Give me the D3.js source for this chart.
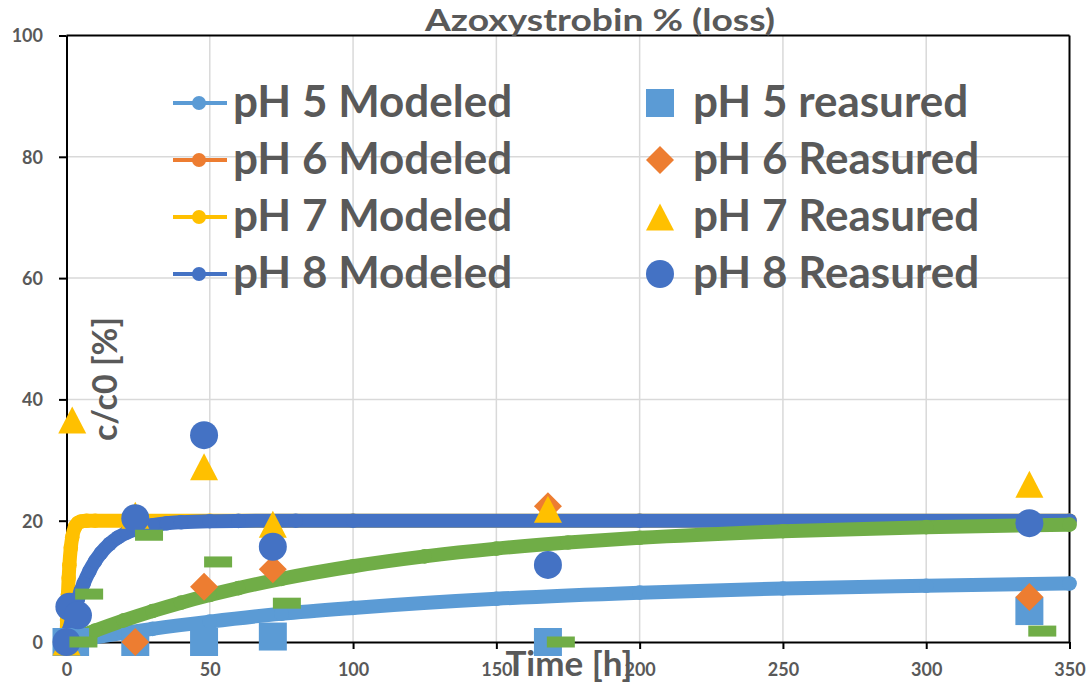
<!DOCTYPE html>
<html><head><meta charset="utf-8">
<script src="https://cdn.jsdelivr.net/npm/d3@7"></script>
<style>
html,body{margin:0;padding:0;background:#fff;}
svg text{font-family:Lato,"Open Sans",sans-serif;font-weight:bold;fill:#595959;}
</style></head>
<body>
<svg id="chart" width="1092" height="691"></svg>
<script>
// ---- data ----
const xTicks = [0, 50, 100, 150, 200, 250, 300, 350];
const yTicks = [0, 20, 40, 60, 80, 100];

// modeled curves
const ph5ModT = [0, 5, 10, 20, 30, 50, 75, 100, 150, 200, 250, 300, 350];
const ph5ModV = [0, 0.40, 0.78, 1.50, 2.17, 3.36, 4.66, 5.62, 7.13, 8.14, 8.82, 9.27, 9.65];

const ph6ModT = [0, 5, 10, 20, 30, 40, 50, 60, 75, 100, 125, 150, 175, 200, 250, 300, 350];
const ph6ModV = [0, 0.96, 1.87, 3.56, 5.10, 6.49, 7.75, 8.89, 10.41, 12.49, 14.12, 15.40, 16.40, 17.18, 18.27, 18.94, 19.35];

const ph7ModT = [0, 0.1, 0.2, 0.3, 0.5, 0.75, 1, 1.5, 2, 3, 4, 5, 7, 10, 20, 50, 100, 200, 350];
const ph7ModV = [0, 1.90, 3.63, 5.18, 7.87, 10.55, 12.64, 15.54, 17.29, 19.0, 19.63, 19.87, 19.98, 20, 20, 20, 20, 20, 20];

const ph8ModT = [0, 1, 2, 3, 4, 5, 6, 8, 10, 12, 15, 18, 21, 25, 30, 35, 40, 50, 60, 80, 100, 200, 350];
const ph8ModV = [0, 2.08, 3.95, 5.62, 7.12, 8.46, 9.66, 11.70, 13.34, 14.66, 16.16, 17.24, 18.02, 18.72, 19.26, 19.58, 19.75, 19.92, 19.97, 20, 20, 20, 20];

// measured points
const ph5MeasT = [0, 3, 24, 48, 72, 168, 336];
const ph5MeasV = [0, 0, 0, 0, 0.9, 0, 5.1];
const ph6MeasT = [0, 24, 48, 72, 168, 336];
const ph6MeasV = [0, 0, 9.1, 12.0, 22.4, 7.4];
const ph7MeasT = [0, 2, 24, 48, 72, 168, 336];
const ph7MeasV = [0, 36.6, 20.9, 28.9, 19.4, 21.9, 26.0];
const ph8MeasT = [0, 1, 4, 24, 48, 72, 168, 336];
const ph8MeasV = [0, 5.8, 4.4, 20.4, 34.1, 15.7, 12.7, 19.6];
// extra green dash series (not in legend)
const extraT = [5.9, 7.9, 28.8, 52.9, 76.9, 172.5, 340.5];
const extraV = [0, 7.9, 17.6, 13.2, 6.4, 0, 1.8];

const legendModeled = ["pH 5 Modeled", "pH 6 Modeled", "pH 7 Modeled", "pH 8 Modeled"];
const legendMeasured = ["pH 5 reasured", "pH 6 Reasured", "pH 7 Reasured", "pH 8 Reasured"];
const colors = {ph5: "#5B9BD5", ph6: "#ED7D31", ph7: "#FFC000", ph8: "#4472C4", green: "#70AD47"};

// ---- chart ----
const svg = d3.select("#chart");
const x = d3.scaleLinear().domain([0, 350]).range([66.5, 1069.5]);
const y = d3.scaleLinear().domain([0, 100]).range([642, 35.5]);

// gridlines
svg.append("g").selectAll("line").data(xTicks.filter(d => d > 0 && d < 350)).join("line")
  .attr("x1", d => x(d)).attr("x2", d => x(d)).attr("y1", y(0)).attr("y2", y(100))
  .attr("stroke", "#D9D9D9").attr("stroke-width", 1.5);
svg.append("g").selectAll("line").data(yTicks.filter(d => d > 0 && d < 100)).join("line")
  .attr("x1", x(0)).attr("x2", x(350)).attr("y1", d => y(d)).attr("y2", d => y(d))
  .attr("stroke", "#D9D9D9").attr("stroke-width", 1.5);

// axes
const yAxis = d3.axisLeft(y).tickValues(yTicks).tickSize(7.5).tickPadding(16).tickSizeOuter(0);
const gy = svg.append("g").attr("transform", `translate(${x(0)},0)`).call(yAxis);
const xAxis = d3.axisBottom(x).tickValues(xTicks).tickSize(7).tickPadding(14).tickSizeOuter(0);
const gx = svg.append("g").attr("transform", `translate(0,${y(0)})`).call(xAxis);
[gx, gy].forEach(g => {
  g.select(".domain").attr("stroke", "#000").attr("stroke-width", 2);
  g.selectAll(".tick line").attr("stroke", "#000").attr("stroke-width", 2);
  g.selectAll(".tick text").attr("font-size", 18).attr("font-family", "Lato").attr("font-weight", "bold").attr("fill", "#595959");
});
gy.selectAll(".tick text").attr("dy", "0.36em");
gx.selectAll(".tick text").attr("dy", "0.71em");
// top & right frame
svg.append("line").attr("x1", x(0)).attr("x2", x(350)).attr("y1", y(100)).attr("y2", y(100)).attr("stroke", "#000").attr("stroke-width", 2);
svg.append("line").attr("x1", x(350)).attr("x2", x(350)).attr("y1", y(100)).attr("y2", y(0)).attr("stroke", "#000").attr("stroke-width", 2);

// modeled lines
const line = d3.line().x(d => x(d[0])).y(d => y(d[1])).curve(d3.curveMonotoneX);
function drawModel(T, V, color) {
  const pts = T.map((t, i) => [t, V[i]]);
  const g = svg.append("g");
  g.append("path").datum(pts).attr("d", line).attr("fill", "none").attr("stroke", color)
    .attr("stroke-width", 14).attr("stroke-linecap", "round").attr("stroke-linejoin", "round");
  g.selectAll("circle").data(pts).join("circle").attr("cx", d => x(d[0])).attr("cy", d => y(d[1]))
    .attr("r", 7.3).attr("fill", color);
}
drawModel(ph5ModT, ph5ModV, colors.ph5);
drawModel(ph7ModT, ph7ModV, colors.ph7);
drawModel(ph8ModT, ph8ModV, colors.ph8);
drawModel(ph6ModT, ph6ModV, colors.green);

// measured markers
function drawMeas(T, V, path, color) {
  svg.append("g").selectAll("path").data(T.map((t, i) => [t, V[i]])).join("path")
    .attr("transform", d => `translate(${x(d[0])},${y(d[1])})`).attr("d", path).attr("fill", color);
}
const squarePath = "M-14,-14H14V14H-14Z";
const diamondPath = "M0,-14L14,0L0,14L-14,0Z";
const trianglePath = "M0,-13.5L14,13.5L-14,13.5Z";
const circlePath = d3.symbol().type(d3.symbolCircle).size(Math.PI * 14 * 14)();
const dashPath = "M-14,-5.5H14V5.5H-14Z";
drawMeas(ph5MeasT, ph5MeasV, squarePath, colors.ph5);
drawMeas(ph6MeasT, ph6MeasV, diamondPath, colors.ph6);
drawMeas(ph7MeasT, ph7MeasV, trianglePath, colors.ph7);
drawMeas(ph8MeasT, ph8MeasV, circlePath, colors.ph8);
drawMeas(extraT, extraV, dashPath, colors.green);

// legend
const rowY = [117, 174, 231, 288];
const modColors = [colors.ph5, colors.ph6, colors.ph7, colors.ph8];
const measPaths = [squarePath, diamondPath, trianglePath, circlePath];
const lg = svg.append("g");
legendModeled.forEach((label, i) => {
  const cy = rowY[i] - 14;
  lg.append("line").attr("x1", 173).attr("x2", 227).attr("y1", cy).attr("y2", cy)
    .attr("stroke", modColors[i]).attr("stroke-width", 4);
  lg.append("circle").attr("cx", 199).attr("cy", cy).attr("r", 7).attr("fill", modColors[i]);
  lg.append("text").attr("x", 233).attr("y", rowY[i]).attr("font-size", 44).text(label);
});
legendMeasured.forEach((label, i) => {
  const cy = rowY[i] - 14;
  lg.append("path").attr("transform", `translate(660,${cy})`).attr("d", measPaths[i]).attr("fill", modColors[i]);
  lg.append("text").attr("x", 693).attr("y", rowY[i]).attr("font-size", 44).text(label);
});

// titles
svg.append("text").attr("x", 600).attr("y", 30.5).attr("text-anchor", "middle").attr("font-size", 31)
  .attr("textLength", 350).attr("lengthAdjust", "spacingAndGlyphs")
  .text("Azoxystrobin % (loss)");
svg.append("text").attr("x", 569).attr("y", 676).attr("text-anchor", "middle").attr("font-size", 35)
  .text("Time [h]");
svg.append("text").attr("transform", "translate(117,379) rotate(-90)").attr("text-anchor", "middle")
  .attr("font-size", 34).text("c/c0 [%]");
</script>
</body></html>
